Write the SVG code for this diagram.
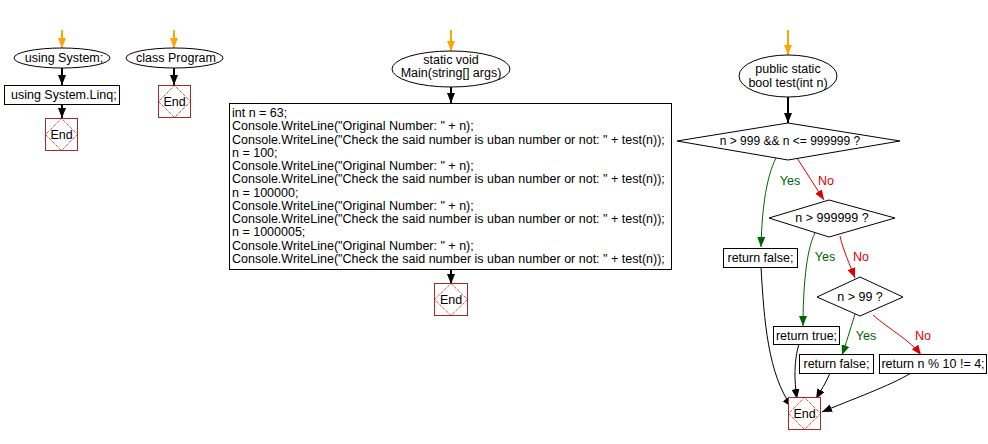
<svg xmlns="http://www.w3.org/2000/svg" width="988" height="444" viewBox="0 0 988 444">
<style>
text{font-family:"Liberation Sans",Arial,sans-serif;font-size:12.5px;fill:#000}
.c{text-anchor:middle}
.s{font-size:12px}
.nd{fill:#fff;stroke:#000;stroke-width:1}
.endr{fill:#fff;stroke:#a52a2a;stroke-width:1}
.endd{fill:none;stroke:#c00;stroke-width:1;stroke-dasharray:1,1}
.e{fill:none;stroke-width:1}
.k{stroke:#000}
.o{stroke:#ffa500}
.g{stroke:#006400}
.r{stroke:#d00}
.thick{stroke-width:2}
.gt{fill:#006400}
.rt{fill:#d00}
</style>
<defs>
<marker id="ak" markerUnits="userSpaceOnUse" markerWidth="10" markerHeight="8" refX="10" refY="4" orient="auto"><path d="M0,0 L10,4 L0,8 z" fill="#000"/></marker>
<marker id="ao" markerUnits="userSpaceOnUse" markerWidth="10" markerHeight="8" refX="10" refY="4" orient="auto"><path d="M0,0 L10,4 L0,8 z" fill="#ffa500"/></marker>
<marker id="ag" markerUnits="userSpaceOnUse" markerWidth="10" markerHeight="8" refX="10" refY="4" orient="auto"><path d="M0,0 L10,4 L0,8 z" fill="#006400"/></marker>
<marker id="ar" markerUnits="userSpaceOnUse" markerWidth="10" markerHeight="8" refX="10" refY="4" orient="auto"><path d="M0,0 L10,4 L0,8 z" fill="#d00"/></marker>
</defs>

<g id="connectors">
<path class="e o thick" d="M62,30 L62,48" marker-end="url(#ao)"/>
<path class="e o thick" d="M174,30 L174,48" marker-end="url(#ao)"/>
<path class="e o thick" d="M451,30 L451,51" marker-end="url(#ao)"/>
<path class="e o thick" d="M788,30 L788,55" marker-end="url(#ao)"/>
<path class="e k thick" d="M62,68 L62,85" marker-end="url(#ak)"/>
<path class="e k thick" d="M62,104 L62,118" marker-end="url(#ak)"/>
<path class="e k thick" d="M174,68 L174,85" marker-end="url(#ak)"/>
<path class="e k thick" d="M451,87 L451,103" marker-end="url(#ak)"/>
<path class="e k thick" d="M451,269 L451,284" marker-end="url(#ak)"/>
<path class="e k thick" d="M788,97 L788,123" marker-end="url(#ak)"/>
<path class="e g" d="M776,158 C767,176 762,205 761,247" marker-end="url(#ag)"/>
<text class="c gt" x="790" y="185">Yes</text>
<path class="e r" d="M797,158 L824,200" marker-end="url(#ar)"/>
<text class="c rt" x="826" y="185">No</text>
<path class="e g" d="M815,233 C806,250 803,290 803,326" marker-end="url(#ag)"/>
<text class="c gt" x="825" y="261">Yes</text>
<path class="e r" d="M840,236 C843,250 850,265 855,278" marker-end="url(#ar)"/>
<text class="c rt" x="861" y="261">No</text>
<path class="e g" d="M855,314 C850,330 846,344 842,355" marker-end="url(#ag)"/>
<text class="c gt" x="866" y="340">Yes</text>
<path class="e r" d="M873,315 C890,330 910,340 921,355" marker-end="url(#ar)"/>
<text class="c rt" x="923" y="340">No</text>
<path class="e k" d="M761,267 C764,320 768,375 792,407" marker-end="url(#ak)"/>
<path class="e k" d="M799,344 C794,360 794,380 797,399" marker-end="url(#ak)"/>
<path class="e k" d="M830,373 C826,383 821,390 816,399" marker-end="url(#ak)"/>
<path class="e k" d="M911,373 C890,386 850,400 822,412" marker-end="url(#ak)"/>
</g>

<g id="n1">
<ellipse class="nd" cx="62" cy="58" rx="48" ry="10"/>
<text class="c" x="64" y="62">using System;</text>
</g>
<g id="n2">
<rect class="nd" x="4.5" y="85.5" width="115" height="19"/>
<text x="11" y="99">using System.Linq;</text>
</g>
<g id="n3">
<rect class="endr" x="45.5" y="118.5" width="32" height="32"/>
<path class="endd" d="M61.5,118.5 L77.5,134.5 L61.5,150.5 L45.5,134.5 z"/>
<text class="c" x="61.5" y="139">End</text>
</g>
<g id="n4">
<ellipse class="nd" cx="174.5" cy="58" rx="48.5" ry="10"/>
<text class="c" x="176" y="62">class Program</text>
</g>
<g id="n5">
<rect class="endr" x="158.5" y="85.5" width="32" height="32"/>
<path class="endd" d="M174.5,85.5 L190.5,101.5 L174.5,117.5 L158.5,101.5 z"/>
<text class="c" x="174.5" y="106">End</text>
</g>
<g id="n6">
<ellipse class="nd" cx="451" cy="69" rx="59" ry="18"/>
<text class="c" x="451" y="64">static void</text>
<text class="c" x="451" y="77">Main(string[] args)</text>
</g>
<g id="n7">
<rect class="nd" x="229.5" y="103.5" width="442" height="166"/>
<text x="232" y="117">int n = 63;</text>
<text x="232" y="130.3">Console.WriteLine("Original Number: " + n);</text>
<text x="232" y="143.5">Console.WriteLine("Check the said number is uban number or not: " + test(n));</text>
<text x="232" y="156.8">n = 100;</text>
<text x="232" y="170.1">Console.WriteLine("Original Number: " + n);</text>
<text x="232" y="183.4">Console.WriteLine("Check the said number is uban number or not: " + test(n));</text>
<text x="232" y="196.6">n = 100000;</text>
<text x="232" y="209.9">Console.WriteLine("Original Number: " + n);</text>
<text x="232" y="223.2">Console.WriteLine("Check the said number is uban number or not: " + test(n));</text>
<text x="232" y="236.4">n = 1000005;</text>
<text x="232" y="249.7">Console.WriteLine("Original Number: " + n);</text>
<text x="232" y="263">Console.WriteLine("Check the said number is uban number or not: " + test(n));</text>
</g>
<g id="n8">
<rect class="endr" x="434.5" y="283.5" width="33" height="32"/>
<path class="endd" d="M451,283.5 L467.5,299.5 L451,315.5 L434.5,299.5 z"/>
<text class="c" x="451" y="304">End</text>
</g>
<g id="n9">
<ellipse class="nd" cx="788" cy="76" rx="49" ry="21"/>
<text class="c" x="788" y="73">public static</text>
<text class="c" x="788" y="87">bool test(int n)</text>
</g>
<g id="n10">
<path class="nd" d="M788,123 L900,141 L788,160 L677,141 z"/>
<text class="c s" x="790" y="145">n &gt; 999 &amp;&amp; n &lt;= 999999 ?</text>
</g>
<g id="n11">
<path class="nd" d="M829,200 L895,218 L829,237 L769,218 z"/>
<text class="c" x="832" y="222">n &gt; 999999 ?</text>
</g>
<g id="n12">
<rect class="nd" x="723.5" y="248.5" width="74" height="19"/>
<text class="c" x="760.5" y="262">return false;</text>
</g>
<g id="n13">
<path class="nd" d="M860,277 L903,297 L860,316 L817,297 z"/>
<text class="c" x="860" y="301">n &gt; 99 ?</text>
</g>
<g id="n14">
<rect class="nd" x="773.5" y="326.5" width="66" height="18"/>
<text class="c" x="806.5" y="340">return true;</text>
</g>
<g id="n15">
<rect class="nd" x="799.5" y="354.5" width="74" height="19"/>
<text class="c" x="836.5" y="368">return false;</text>
</g>
<g id="n16">
<rect class="nd" x="879.5" y="354.5" width="107" height="19"/>
<text class="c" x="933" y="368">return n % 10 != 4;</text>
</g>
<g id="n17">
<rect class="endr" x="788.5" y="397.5" width="32" height="32"/>
<path class="endd" d="M804.5,397.5 L820.5,413.5 L804.5,429.5 L788.5,413.5 z"/>
<text class="c" x="804.5" y="418">End</text>
</g>
</svg>
